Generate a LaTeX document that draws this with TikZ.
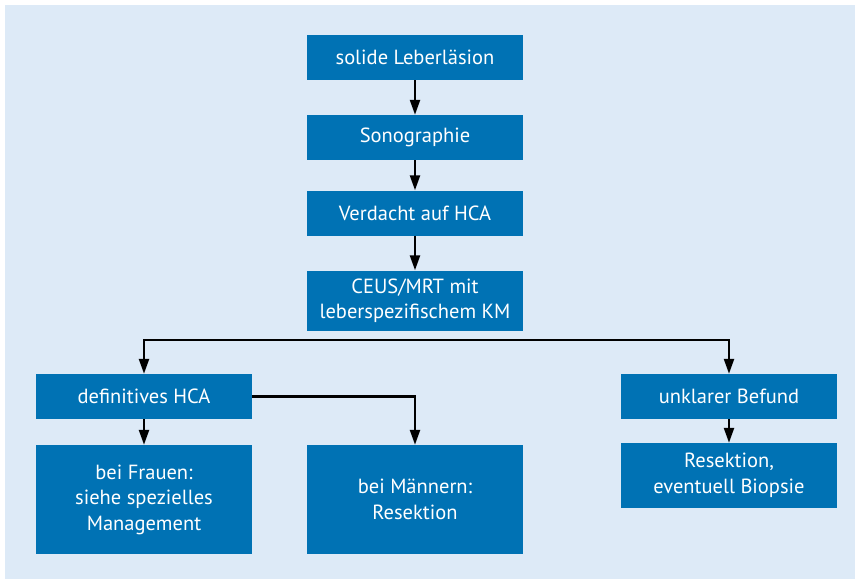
\documentclass[tikz,border=0pt]{standalone}
\usepackage{fontspec}
\setmainfont{PT Sans}
\usetikzlibrary{arrows.meta}
\definecolor{panelbg}{RGB}{221,234,247}
\definecolor{boxblue}{RGB}{0,114,180}
\tikzset{
  flowbox/.style={fill=boxblue, text=white, draw=none, minimum width=216pt,
    inner sep=0pt, align=center, font=\fontsize{20.5}{25.5}\selectfont},
  arr/.style={draw=black, line width=2.3pt,
    -{Triangle[length=15pt,width=10pt]}}
}
\begin{document}
\begin{tikzpicture}[x=1pt,y=-1pt]
  % page frame and light blue panel
  \useasboundingbox (0,0) rectangle (855,579);
  \fill[panelbg] (5,5) rectangle (855,579);

  % main column
  \node[flowbox, minimum height=45pt] (lesion) at (415,57.5) {solide Leberläsion};
  \node[flowbox, minimum height=45pt] (sono) at (415,137.5) {Sonographie};
  \node[flowbox, minimum height=45pt] (suspect) at (415,213) {Verdacht auf HCA};
  \node[flowbox, minimum height=60pt] (ceus) at (415,300.5) {CEUS/MRT mit\\leberspezifischem KM};

  % second level
  \node[flowbox, minimum height=45pt] (definite) at (144,396.5) {definitives HCA};
  \node[flowbox, minimum height=45pt] (unclear) at (729,396.5) {unklarer Befund};

  % outcomes
  \node[flowbox, minimum height=109pt] (women) at (144,499.5) {bei Frauen:\\siehe spezielles\\Management};
  \node[flowbox, minimum height=109pt] (men) at (415,499.5) {bei Männern:\\Resektion};
  \node[flowbox, minimum height=65pt] (resect) at (729,475.5) {Resektion,\\eventuell Biopsie};

  % connectors
  \draw[arr] (lesion) -- (sono);
  \draw[arr] (sono) -- (suspect);
  \draw[arr] (suspect) -- (ceus);
  \coordinate (split) at (415,340);
  \draw[arr] (split) -| (definite.north);
  \draw[arr] (split) -| (unclear.north);
  \draw[arr] (definite) -- (women);
  \draw[arr] (definite.east) -| (men.north);
  \draw[arr] (unclear) -- (resect);
\end{tikzpicture}
\end{document}
